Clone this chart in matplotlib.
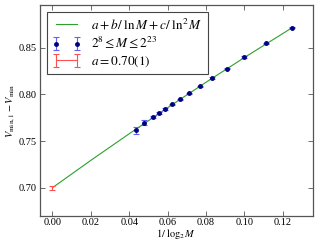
import numpy as np
import matplotlib
matplotlib.use("Agg")
import matplotlib.pyplot as plt

plt.rcParams['font.family'] = 'serif'
plt.rcParams['font.serif'] = ['Liberation Serif', 'DejaVu Serif']
plt.rcParams['mathtext.fontset'] = 'stix'

# data
log2_M = [8, 9, 10, 11, 12, 13, 14, 15, 16, 17, 18, 19, 21, 23]
dV = [0.8715, 0.8545, 0.8398, 0.8275, 0.8177, 0.8085, 0.8012, 0.7947,
      0.7893, 0.7843, 0.7797, 0.7755, 0.7697, 0.7613]
dV_err = [0.0008, 0.0008, 0.0008, 0.0008, 0.0008, 0.0008, 0.0008, 0.0008,
          0.0008, 0.0012, 0.0010, 0.0010, 0.0025, 0.0040]

fit_x = [0.0, 0.02, 0.04, 0.06, 0.08, 0.10, 0.125]
fit_y = [0.700, 0.7293, 0.7578, 0.7857, 0.8129, 0.8394, 0.8715]

a_x = [0.0]
a_y = [0.700]
a_err = [0.002]

x = 1.0 / np.array(log2_M, dtype=float)

fig = plt.figure(figsize=(3.2, 2.4), dpi=100)
ax = fig.add_axes([0.125, 0.10, 0.853, 0.879])

ax.plot(fit_x, fit_y, '-', color='#2ca02c', lw=0.8,
        label=r'$a + b/\;\ln M + c/\;\ln^2 M$')
ax.errorbar(x, dV, yerr=dV_err, fmt='o', ms=2.5, color='#000080',
            mec='#000080', ecolor='#6060ff', elinewidth=0.8, capsize=2,
            capthick=0.8, label=r'$2^8 \leq M \leq 2^{23}$')
ax.errorbar(a_x, a_y, yerr=a_err, fmt='-', color='#ff5050', lw=0.8,
            ecolor='#ff5050', elinewidth=0.8, capsize=2, capthick=0.8,
            label=r'$a = 0.70(1)$')

ax.set_xlim(-0.0065, 0.1358)
ax.set_ylim(0.6697, 0.8957)
ax.set_xticks([0.00, 0.02, 0.04, 0.06, 0.08, 0.10, 0.12])
ax.set_yticks([0.70, 0.75, 0.80, 0.85])
ax.xaxis.set_major_formatter(matplotlib.ticker.FormatStrFormatter('%.2f'))
ax.yaxis.set_major_formatter(matplotlib.ticker.FormatStrFormatter('%.2f'))
ax.tick_params(direction='in', top=True, right=True, labelsize=7.5,
               length=3.5, width=0.6, color='#555555', pad=2.5)
ax.tick_params(axis='x', pad=1.2)
for s in ax.spines.values():
    s.set_color('#555555')
    s.set_linewidth(0.9)

ax.set_xlabel(r'$1/\;\log_2 M$', fontsize=7.5, labelpad=0.5)
ax.set_ylabel(r'$V_{\min,1} - V_{\min}$', fontsize=7.5, labelpad=1)

leg = ax.legend(loc='upper left', fontsize=9.5, numpoints=2, fancybox=False,
                edgecolor='#444444', framealpha=1, borderaxespad=0.5,
                handlelength=2.2, labelspacing=0.25, borderpad=0.4)
leg.get_frame().set_linewidth(0.8)

fig.savefig('out.png', dpi=100)
